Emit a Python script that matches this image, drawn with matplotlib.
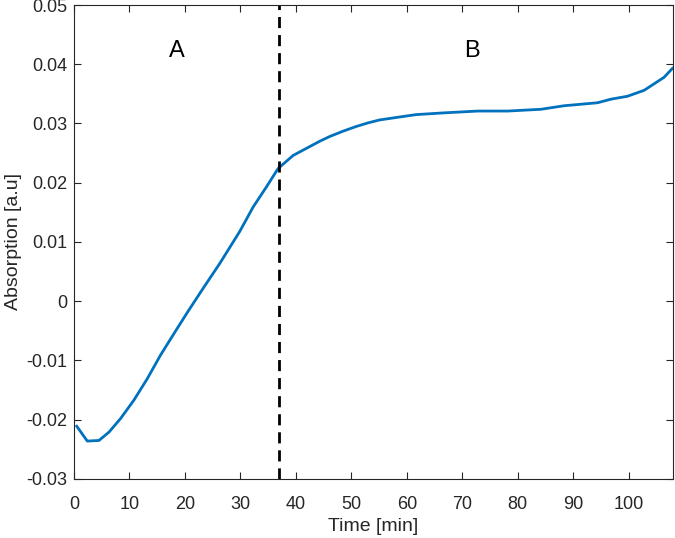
import matplotlib
matplotlib.use("Agg")
import matplotlib.pyplot as plt

plt.rcParams['font.family'] = ['Liberation Sans', 'DejaVu Sans']

time_min = [0.5, 2.4, 4.5, 6.3, 8.4, 10.8, 13.2, 15.6, 18.0, 20.5, 23.3, 26.3, 29.9,
            32.3, 34.7, 36.8, 39.5, 41.3, 44.3, 46.1, 48.5, 50.9, 53.0, 55.1, 58.0,
            61.7, 66.8, 72.8, 78.2, 84.2, 88.4, 94.4, 96.8, 99.8, 102.8, 106.4, 107.9]
absorption = [-0.0211, -0.0236, -0.0235, -0.0221, -0.0198, -0.0167, -0.0131, -0.0091,
              -0.0055, -0.0018, 0.0022, 0.0064, 0.0118, 0.0159, 0.0193, 0.0224, 0.0246,
              0.0255, 0.0270, 0.0278, 0.0287, 0.0295, 0.0301, 0.0306, 0.0310, 0.0315,
              0.0318, 0.0321, 0.0321, 0.0324, 0.0330, 0.0335, 0.0341, 0.0346, 0.0356,
              0.0378, 0.0393]
boundary_time = 37
region_labels = ["A", "B"]
region_label_x = [18.5, 71.7]
region_label_y = [0.0422, 0.0422]
x_ticks = [0, 10, 20, 30, 40, 50, 60, 70, 80, 90, 100]
y_ticks = [-0.03, -0.02, -0.01, 0, 0.01, 0.02, 0.03, 0.04, 0.05]
y_tick_labels = ["-0.03", "-0.02", "-0.01", "0", "0.01", "0.02", "0.03", "0.04", "0.05"]

fig = plt.figure(figsize=(6.75, 5.38), dpi=100)
ax = fig.add_axes([0.1096, 0.1097, 0.8874, 0.881])

ax.plot(time_min, absorption, color=(0, 0.447, 0.741), lw=2.0)
ax.axvline(boundary_time, color='black', lw=2.0, ls=(0, (4, 2.5)))
for lab, lx, ly in zip(region_labels, region_label_x, region_label_y):
    ax.text(lx, ly, lab, fontsize=17, ha='center', va='center', color='black')

ax.set_xlim(0, 108)
ax.set_ylim(-0.03, 0.05)
ax.set_xticks(x_ticks)
ax.set_yticks(y_ticks)
ax.set_yticklabels(y_tick_labels)
gray = '#262626'
ax.tick_params(direction='in', top=True, right=True, length=5, width=0.8,
               colors=gray, labelsize=13, labelcolor=gray)
ax.tick_params(axis='x', pad=12)
ax.tick_params(axis='y', pad=5)
for s in ax.spines.values():
    s.set_color('#262626')
    s.set_linewidth(0.8)
ax.set_xlabel('Time [min]', fontsize=14, color=gray, labelpad=4)
ax.set_ylabel('Absorption [a.u]', fontsize=14, color=gray, labelpad=3)

fig.savefig('out.png', dpi=100)
